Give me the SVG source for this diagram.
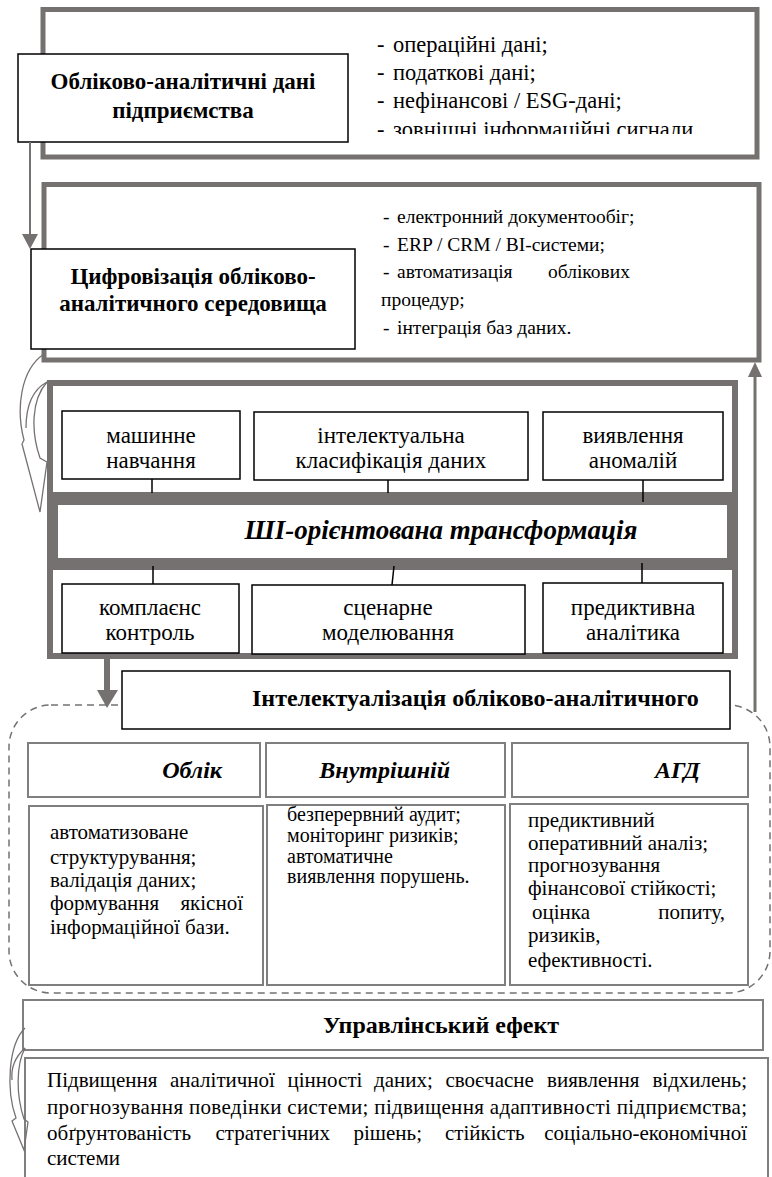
<svg xmlns="http://www.w3.org/2000/svg" width="772" height="1177" viewBox="0 0 772 1177">
<style>
.t{font-family:"Liberation Serif","Times New Roman",serif;fill:#000}
.b{font-weight:bold}
.bi{font-weight:bold;font-style:italic}
.frame{fill:#fff;stroke:#767171;stroke-width:5}
.box{fill:#fff;stroke:#000;stroke-width:1.5}
.gbox{fill:#fff;stroke:#7f7f7f;stroke-width:2}
.gl{fill:none;stroke:#767171}
.tick{stroke:#000;stroke-width:1.5}
.sb{font-size:23px;text-anchor:middle}
</style>
<defs>
<clipPath id="clip1"><rect x="360" y="20" width="390" height="114"/></clipPath>
</defs>
<rect width="772" height="1177" fill="#fff"/>

<g id="n-data-frame">
<rect class="frame" x="43" y="9.5" width="714" height="147.5"/>
<g clip-path="url(#clip1)" class="t" font-size="22.5">
<text x="377" y="52">-<tspan x="393">операційні дані;</tspan></text>
<text x="377" y="80">-<tspan x="393">податкові дані;</tspan></text>
<text x="377" y="108">-<tspan x="393">нефінансові / ESG-дані;</tspan></text>
<text x="377" y="137">-<tspan x="393">зовнішні інформаційні сигнали.</tspan></text>
</g>
</g>
<g id="n-data-title">
<rect class="box" x="18" y="54" width="330" height="88"/>
<text class="t b" font-size="23" text-anchor="middle" x="183" y="89">Обліково-аналітичні дані</text>
<text class="t b" font-size="23" text-anchor="middle" x="183" y="118">підприємства</text>
</g>

<g id="n-digital-frame">
<rect class="frame" x="44" y="184.5" width="715" height="175.5"/>
<g class="t" font-size="19.5">
<text x="383" y="223">-<tspan x="397">електронний документообіг;</tspan></text>
<text x="383" y="251">-<tspan x="397">ERP / CRM / BI-системи;</tspan></text>
<text x="383" y="278">-<tspan x="397">автоматизація</tspan><tspan x="630" text-anchor="end">облікових</tspan></text>
<text x="381" y="306">процедур;</text>
<text x="383" y="334">-<tspan x="397">інтеграція баз даних.</tspan></text>
</g>
</g>
<g id="n-digital-title">
<rect class="box" x="31" y="249" width="324" height="100"/>
<text class="t b" font-size="23" text-anchor="middle" x="193" y="284">Цифровізація обліково-</text>
<text class="t b" font-size="23" text-anchor="middle" x="193" y="311">аналітичного середовища</text>
</g>

<g id="n-ai-frame">
<rect x="50" y="383" width="685" height="273" fill="#fff" stroke="#767171" stroke-width="6"/>
<rect x="50" y="492" width="685" height="78" fill="#767171"/>
<rect x="58" y="505" width="669" height="53" fill="#fff"/>
<text class="t bi" font-size="27" text-anchor="middle" x="441" y="539">ШІ-орієнтована трансформація</text>
</g>
<g id="n-ml">
<rect class="box" x="62" y="411" width="178" height="68"/>
<text class="t sb" x="151" y="443">машинне</text>
<text class="t sb" x="151" y="468">навчання</text>
</g>
<g id="n-class">
<rect class="box" x="254" y="412" width="274" height="68"/>
<text class="t sb" x="391" y="443">інтелектуальна</text>
<text class="t sb" x="391" y="468">класифікація даних</text>
</g>
<g id="n-anom">
<rect class="box" x="543" y="412" width="180" height="68"/>
<text class="t sb" x="633" y="443">виявлення</text>
<text class="t sb" x="633" y="468">аномалій</text>
</g>
<g id="n-comp">
<rect class="box" x="62" y="584" width="177" height="69"/>
<text class="t sb" x="150" y="615">комплаєнс</text>
<text class="t sb" x="150" y="640">контроль</text>
</g>
<g id="n-scen">
<rect class="box" x="252" y="585" width="273" height="69"/>
<text class="t sb" x="388" y="615">сценарне</text>
<text class="t sb" x="388" y="640">моделювання</text>
</g>
<g id="n-pred">
<rect class="box" x="543" y="583" width="180" height="70"/>
<text class="t sb" x="633" y="615">предиктивна</text>
<text class="t sb" x="633" y="640">аналітика</text>
</g>

<g id="n-intel-area">
<rect x="9" y="705" width="761" height="288" rx="42" fill="none" stroke="#767171" stroke-width="1.5" stroke-dasharray="7 5"/>
</g>
<g id="n-intel">
<rect class="box" x="122" y="671" width="608" height="58"/>
<text class="t b" font-size="24" x="252" y="706">Інтелектуалізація обліково-аналітичного</text>
</g>

<g id="n-h-oblik">
<rect class="gbox" x="28" y="743" width="232" height="54"/>
<text class="t bi" font-size="24" text-anchor="end" x="222" y="778">Облік</text>
</g>
<g id="n-h-vnutr">
<rect class="gbox" x="266" y="743" width="239" height="54"/>
<text class="t bi" font-size="24" text-anchor="end" x="450" y="778">Внутрішній</text>
</g>
<g id="n-h-agd">
<rect class="gbox" x="512" y="743" width="236" height="54"/>
<text class="t bi" font-size="24" text-anchor="end" x="700" y="778">АГД</text>
</g>
<g id="n-c-oblik">
<rect class="gbox" x="29" y="806" width="234" height="179"/>
<g class="t" font-size="21">
<text x="50" y="839">автоматизоване</text>
<text x="50" y="864">структурування;</text>
<text x="50" y="887">валідація даних;</text>
<text x="50" y="910">формування</text>
<text x="243" y="910" text-anchor="end">якісної</text>
<text x="50" y="934">інформаційної бази.</text>
</g>
</g>
<g id="n-c-vnutr">
<rect class="gbox" x="267" y="805" width="238" height="180"/>
<g class="t" font-size="20">
<text x="287" y="821">безперервний аудит;</text>
<text x="287" y="842">моніторинг ризиків;</text>
<text x="287" y="863">автоматичне</text>
<text x="287" y="883">виявлення порушень.</text>
</g>
</g>
<g id="n-c-agd">
<rect class="gbox" x="510" y="804" width="238" height="181"/>
<g class="t" font-size="21">
<text x="528" y="827">предиктивний</text>
<text x="528" y="850">оперативний аналіз;</text>
<text x="528" y="872">прогнозування</text>
<text x="528" y="895">фінансової стійкості;</text>
<text x="532" y="919">оцінка</text>
<text x="725" y="919" text-anchor="end">попиту,</text>
<text x="528" y="942">ризиків,</text>
<text x="528" y="967">ефективності.</text>
</g>
</g>

<g id="n-effect">
<rect class="gbox" x="23" y="1000" width="740" height="50"/>
<text class="t b" font-size="24" text-anchor="middle" x="441" y="1033">Управлінський ефект</text>
</g>
<g id="n-effect-text">
<rect class="gbox" x="25" y="1058" width="743" height="140"/>
<g class="t" font-size="21">
<text y="1087"><tspan x="47">Підвищення</tspan><tspan x="170">аналітичної</tspan><tspan x="287.5">цінності</tspan><tspan x="374">даних;</tspan><tspan x="445.5">своєчасне</tspan><tspan x="547">виявлення</tspan><tspan x="747" text-anchor="end">відхилень;</tspan></text>
<text x="47" y="1114" textLength="700" lengthAdjust="spacing">прогнозування поведінки системи; підвищення адаптивності підприємства;</text>
<text y="1140"><tspan x="47">обґрунтованість</tspan><tspan x="215.5">стратегічних</tspan><tspan x="353.5">рішень;</tspan><tspan x="445">стійкість</tspan><tspan x="747" text-anchor="end">соціально-економічної</tspan></text>
<text x="47" y="1165">системи</text>
</g>
</g>

<g id="connectors">
<line class="gl" x1="30" y1="142" x2="30" y2="236" stroke-width="2"/>
<polygon points="22,234 38,234 30,249" fill="#767171"/>
<path class="gl" stroke-width="1.3" d="M44 354 C20 370 16 410 24 440 L22 444 L40 512 L47 462 L40 458 C31 432 31 400 47 382"/>
<path class="gl" stroke-width="1.3" d="M47 382 C32 390 26 408 26 428"/>
<line class="tick" x1="152" y1="479" x2="152" y2="493"/>
<line class="tick" x1="388" y1="480" x2="388" y2="493"/>
<line class="tick" x1="643" y1="480" x2="643" y2="502"/>
<line class="tick" x1="153" y1="566" x2="153" y2="584"/>
<line class="tick" x1="394" y1="566" x2="392" y2="585"/>
<line class="tick" x1="642" y1="563" x2="642" y2="583"/>
<line class="gl" x1="107" y1="658" x2="107" y2="692" stroke-width="6"/>
<polygon points="97,690 118,690 107,708" fill="#767171"/>
<line class="gl" x1="755" y1="712" x2="755" y2="374" stroke-width="3"/>
<polygon points="748,377 762,377 755,362" fill="#767171"/>
<path class="gl" stroke-width="1.3" d="M25 1028 C8 1045 6 1090 16 1118 L12 1121 L24 1150 L28 1122 L24 1119 C16 1095 16 1065 25 1048"/>
<path class="gl" stroke-width="1.3" d="M25 1048 C14 1058 11 1070 12 1080"/>
</g>
</svg>
